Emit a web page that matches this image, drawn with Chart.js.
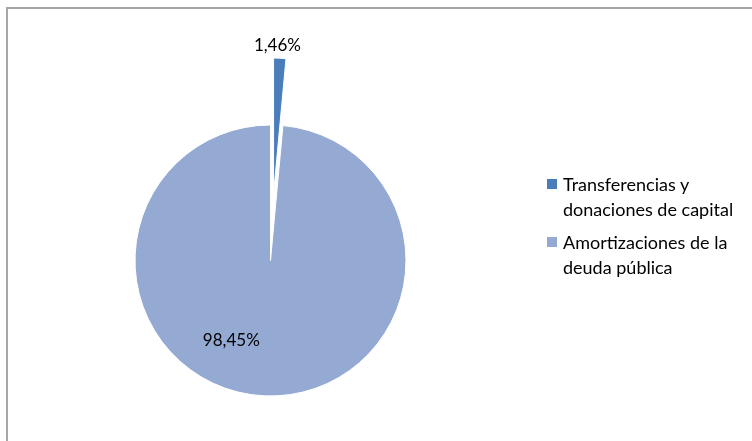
<!DOCTYPE html>
<html>
<head>
<meta charset="utf-8">
<script src="https://cdn.jsdelivr.net/npm/chart.js@4/dist/chart.umd.min.js"></script>
<style>
 html,body{margin:0;padding:0;background:#fff;}
 #wrap{position:relative;width:752px;height:441px;overflow:hidden;font-family:Lato,sans-serif;}
 #frame{position:absolute;left:6px;top:7px;width:800px;height:500px;border-left:2px solid #a6a6a6;border-top:2px solid #a6a6a6;}
 #box{position:absolute;left:0;top:0;width:752px;height:441px;}
 #legend{position:absolute;left:547px;top:172px;font-size:18px;color:#000;line-height:25px;}
 .item{position:relative;padding-left:16px;margin-bottom:8px;}
 .sw{position:absolute;left:0;top:7px;width:10px;height:10px;}
</style>
</head>
<body>
<div id="wrap">
 <div id="frame"></div>
 <div id="box"><canvas id="pie"></canvas></div>
 <div id="legend"></div>
</div>
<script>

const categories = [["Transferencias y", "donaciones de capital"], ["Amortizaciones de la", "deuda pública"]]
const values = [1.46, 98.45]
const colors = ["#4A7EBB", "#95AAD2"]
const explode = [67, 0]

// labels as shown on the chart, comma decimals
const fmt = v => v.toFixed(2).replace(".", ",") + "%"

// move exploded slices along their middle angle
const explodePlugin = {
 id:"explode",
 afterDatasetsUpdate(chart){
  const arcs = chart.getDatasetMeta(0).data
  arcs.forEach((arc,i)=>{
   const d = explode[i]
   if(!d) return
   const mid = (arc.startAngle + arc.endAngle) / 2
   arc.x += Math.cos(mid) * d
   arc.y += Math.sin(mid) * d
  })
 }
}

// value labels: small slice outside, big slice inside
const labelPlugin = {
 id:"valueLabels",
 afterDatasetsDraw(chart){
  const ctx = chart.ctx
  const arcs = chart.getDatasetMeta(0).data
  ctx.save()
  ctx.font = "17px Lato"
  ctx.fillStyle = "#000"
  ctx.textAlign = "center"
  ctx.textBaseline = "middle"
  arcs.forEach((arc,i)=>{
   let ang, r
   if(i === 0){
    ang = (arc.startAngle + arc.endAngle) / 2 - 0.02
    r = arc.outerRadius + 13
   } else {
    ang = (206 - 90) * Math.PI / 180
    r = arc.outerRadius * 0.66
   }
   ctx.fillText(fmt(values[i]), arc.x + Math.cos(ang) * r, arc.y + Math.sin(ang) * r)
  })
  ctx.restore()
 }
}

new Chart(document.getElementById("pie"),{
 type:"pie",
 data:{
  labels:categories.map(c=>c.join(" ")),
  datasets:[{
   data:values,
   backgroundColor:colors,
   borderColor:"#fff",
   borderWidth:1
  }]
 },
 options:{
  responsive:true,
  maintainAspectRatio:false,
  animation:false,
  radius:135.5,
  layout:{padding:{left:0,right:211,top:80,bottom:0}},
  plugins:{
   legend:{display:false},
   tooltip:{enabled:false}
  }
 },
 plugins:[explodePlugin, labelPlugin]
})

const legend = document.getElementById("legend")
categories.forEach((c,i)=>{
 const div = document.createElement("div")
 div.className = "item"
 div.innerHTML = '<span class="sw" style="background:' + colors[i] + '"></span>' + c.join("<br>")
 legend.appendChild(div)
})

</script>
</body>
</html>
